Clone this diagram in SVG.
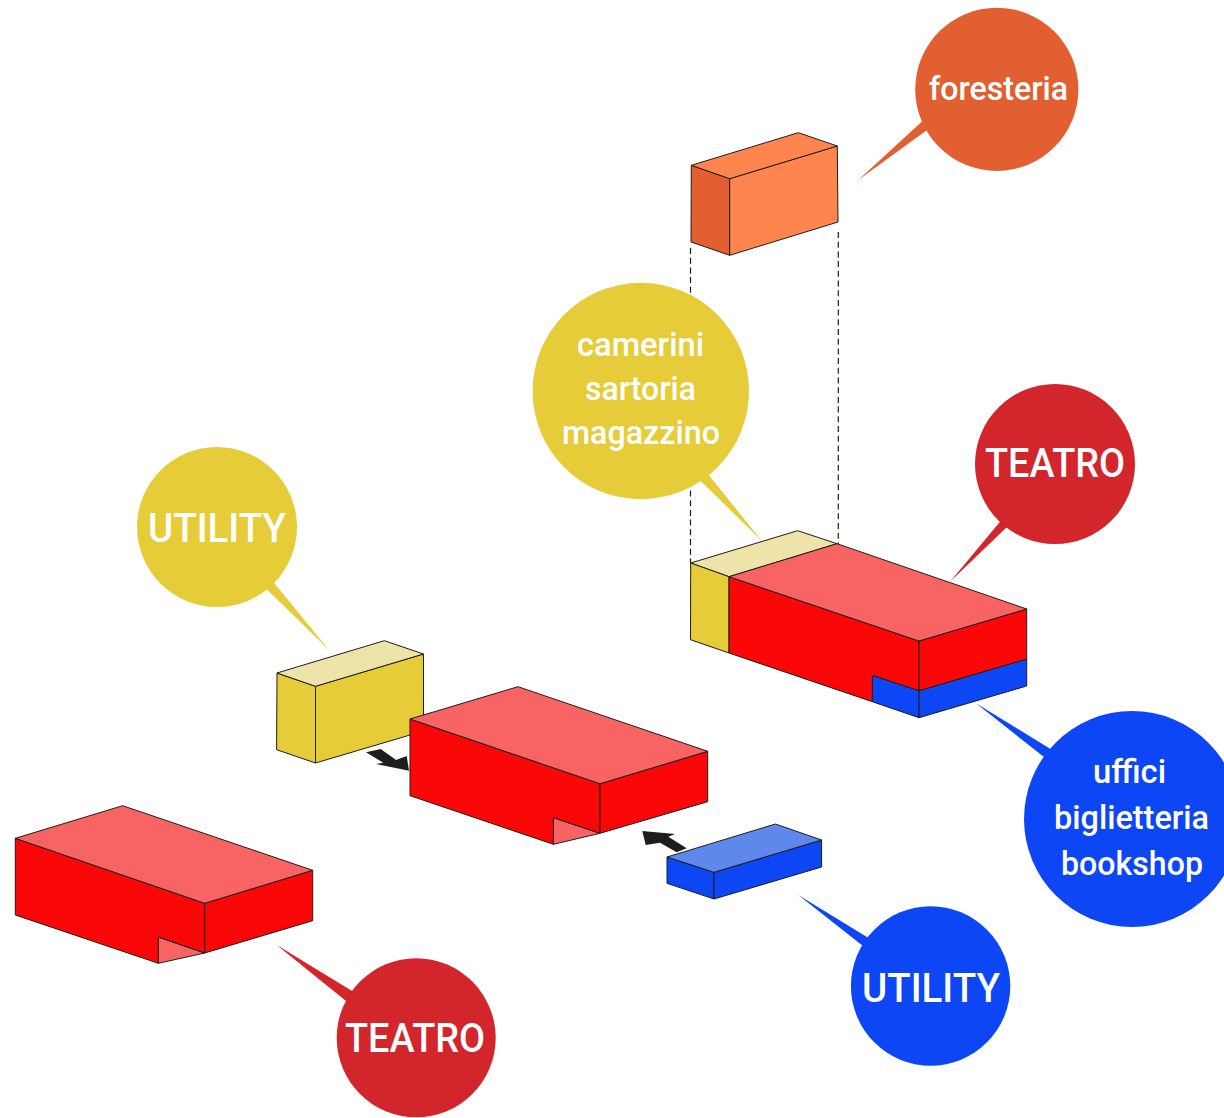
<svg xmlns="http://www.w3.org/2000/svg" width="1224" height="1118" viewBox="0 0 1224 1118">
<style>
.f{stroke:#1d1d1b;stroke-width:1;stroke-linejoin:miter}
.r{fill:#fc0707}.rl{fill:#f86464}.y{fill:#e5cc38}.yl{fill:#eee3a8}.b{fill:#0c46f5}.bl{fill:#5f88ec}.o{fill:#ff854f}.od{fill:#e15f30}
.cr{fill:#d2252c}.cy{fill:#e5cc38}.cb{fill:#0c46f5}.co{fill:#e15f30}
text{fill:#fff;font-family:"Roboto","Liberation Sans",sans-serif;text-anchor:start}
.s{font-size:33px;font-weight:500}
.l{font-size:41px;font-weight:500}
.d{fill:none;stroke:#1d1d1b;stroke-width:1.2;stroke-dasharray:6 3.7}
.a{fill:#1d1d1b}
</style>
<rect width="1224" height="1118" fill="#fff"/>
<g id="connectors">
<path class="d" d="M690.5 248V563"/>
<path class="d" d="M838.3 232V544"/>
<path class="a" d="M366 752.3L380.7 749L396 760L406.7 756L409 770.7L376 764L383.3 762.7Z"/>
<path class="a" d="M686.7 848.3L676.7 852.3L660 842.7L645.7 845L642.3 831L675 834L668.3 836.7Z"/>
</g>
<g id="volume-foresteria">
<path class="f od" d="M691.3 165.3L729.7 178.7V255.3L691 242Z"/>
<path class="f o" d="M729.7 178.7L837.3 146L838 222L729.7 255.3Z"/>
<path class="f o" d="M691.3 165.3L798.3 132.7L837.3 146L729.7 178.7Z"/>
</g>
<g id="volume-teatro-assembled">
<path class="f yl" d="M690.7 563L797.7 530.7L837 543.7L729 576.7Z"/>
<path class="f y" d="M690.7 563L729 576.7V653L690.5 639.7Z"/>
<path class="f b" d="M872.3 675.3L919 690.7V717.7L872.3 701.7Z"/>
<path class="f b" d="M919 690.7L1026.7 659V686L919 717.7Z"/>
<path class="f r" d="M729 576.7L919 641V690.7L872.3 675.3V701.7L729 653Z"/>
<path class="f r" d="M919 641L1026.7 609V659L919 690.7Z"/>
<path class="f rl" d="M729 576.7L837 543.7L1026.7 609L919 641Z"/>
</g>
<g id="volume-utility-yellow">
<path class="f y" d="M277 673L315.5 686.3V763L276.6 749.7Z"/>
<path class="f y" d="M315.5 686.3L423.5 654V731L315.5 763Z"/>
<path class="f yl" d="M277 673L384.3 640.7L423.5 654L315.5 686.3Z"/>
</g>
<g id="volume-teatro-centre">
<path class="f rl" d="M553.4 817.7L600 833.3L553.4 844.3Z"/>
<path class="f r" d="M410 719L600 783.7V833.3L553.4 817.7V844.3L410 795.7Z"/>
<path class="f r" d="M600 783.7L707.7 751.3V801.7L600 833.3Z"/>
<path class="f rl" d="M410 719L518 686.7L707.7 751.3L600 783.7Z"/>
</g>
<g id="volume-utility-blue">
<path class="f b" d="M667 857L714 872.3V899L667 883.3Z"/>
<path class="f b" d="M714 872.3L821.6 840V867L714 899Z"/>
<path class="f bl" d="M667 857L775.4 824L821.6 840L714 872.3Z"/>
</g>
<g id="volume-teatro-left">
<path class="f rl" d="M158.3 937L204.7 953L158.3 963.3Z"/>
<path class="f r" d="M15.3 838.3L204.7 903.3V953L158.3 937V963.3L15.3 915Z"/>
<path class="f r" d="M204.7 903.3L312.7 870.3V920.7L204.7 953Z"/>
<path class="f rl" d="M15.3 838.3L122.7 805.7L312.7 870.3L204.7 903.3Z"/>
</g>
<g id="label-foresteria">
<path class="co" d="M921.7 121.7L858.3 180L926 130.7L997 89Z"/>
<circle class="co" cx="996.8" cy="89.3" r="81.6"/>
<text class="s" x="929" y="99.7" textLength="139" lengthAdjust="spacingAndGlyphs">foresteria</text>
</g>
<g id="label-camerini">
<path class="cy" d="M700.7 481L761.7 540.7L708.7 475L641 391Z"/>
<circle class="cy" cx="640.8" cy="391" r="108.2"/>
<text class="s" x="577" y="356" textLength="127" lengthAdjust="spacingAndGlyphs">camerini</text>
<text class="s" x="585" y="400" textLength="111" lengthAdjust="spacingAndGlyphs">sartoria</text>
<text class="s" x="562" y="444" textLength="158" lengthAdjust="spacingAndGlyphs">magazzino</text>
</g>
<g id="label-teatro-right">
<path class="cr" d="M1000 521.7L950 581.7L1006.7 527.3L1055 464Z"/>
<circle class="cr" cx="1055" cy="464" r="80"/>
<text class="l" x="985" y="477" textLength="140" lengthAdjust="spacingAndGlyphs">TEATRO</text>
</g>
<g id="label-uffici">
<path class="cb" d="M1049.3 748.3L976 703.3L1042.7 756L1132 819Z"/>
<circle class="cb" cx="1132" cy="819" r="108"/>
<text class="s" x="1093" y="783" textLength="73" lengthAdjust="spacingAndGlyphs">uffici</text>
<text class="s" x="1054" y="829" textLength="155" lengthAdjust="spacingAndGlyphs">biglietteria</text>
<text class="s" x="1061" y="875" textLength="142" lengthAdjust="spacingAndGlyphs">bookshop</text>
</g>
<g id="label-utility-yellow">
<path class="cy" d="M274 582.7L329 650L266.7 589.3L217 527Z"/>
<circle class="cy" cx="217" cy="527" r="80"/>
<text class="l" x="148" y="542" textLength="138" lengthAdjust="spacingAndGlyphs">UTILITY</text>
</g>
<g id="label-utility-blue">
<path class="cb" d="M867.3 937.3L798.3 895L861.7 945L931 986Z"/>
<circle class="cb" cx="930.6" cy="986" r="79.7"/>
<text class="l" x="862" y="1002" textLength="138" lengthAdjust="spacingAndGlyphs">UTILITY</text>
</g>
<g id="label-teatro-bottom">
<path class="cr" d="M351.7 990.7L276.7 945L345.7 1000.7L416 1038Z"/>
<circle class="cr" cx="416.2" cy="1037.8" r="79.5"/>
<text class="l" x="345" y="1051.7" textLength="140" lengthAdjust="spacingAndGlyphs">TEATRO</text>
</g>
</svg>
